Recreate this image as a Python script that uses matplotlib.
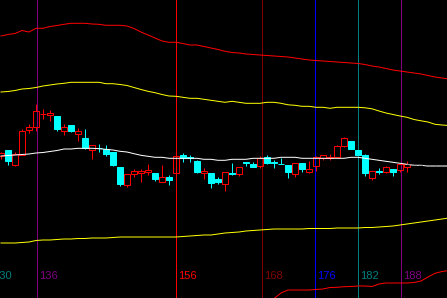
import numpy as np
import matplotlib.pyplot as plt
from matplotlib.patches import Rectangle

# primeiro candle visível
inicio = 131

# candles (escala arbitrária)
abertura = [141.7, 148.0, 133.3, 143.0, 168.3, 171.3, 183.7, 183.0, 182.0, 166.7,
            173.0, 163.7, 160.3, 148.0, 149.8, 148.7, 146.3, 131.0, 113.0, 124.3,
            125.3, 126.0, 124.7, 116.3, 121.3, 125.3, 143.0, 140.7, 137.3, 125.3,
            124.7, 118.7, 113.7, 125.0, 123.7, 135.7, 134.0, 131.7, 141.0, 135.7,
            134.0, 133.0, 123.7, 135.0, 126.3, 131.7, 140.3, 140.5, 140.7, 152.3,
            157.0, 148.0, 143.0, 120.3, 126.7, 125.7, 129.0, 127.7, 130.7]
fechamento = [145.0, 137.3, 144.3, 167.0, 171.0, 187.0, 184.3, 185.3, 169.3, 170.7,
              167.0, 167.0, 149.7, 153.0, 149.6, 144.0, 133.0, 114.0, 124.0, 127.0,
              127.0, 128.0, 118.7, 120.7, 117.7, 141.7, 139.7, 140.3, 126.0, 127.0,
              115.0, 116.3, 125.7, 124.5, 130.7, 135.3, 131.3, 139.7, 135.3, 135.3,
              133.7, 126.3, 134.7, 129.0, 129.0, 140.7, 142.7, 141.0, 152.0, 160.0,
              149.0, 143.0, 125.3, 127.0, 126.3, 131.3, 126.3, 134.0, 133.7]
maxima = [146.3, 148.0, 145.7, 169.0, 173.7, 193.7, 188.7, 187.7, 182.0, 173.7,
          173.0, 169.7, 169.0, 153.0, 153.7, 153.0, 146.3, 131.0, 124.0, 129.0,
          129.0, 133.7, 124.7, 133.0, 123.0, 141.7, 145.0, 143.0, 138.0, 130.3,
          124.7, 121.3, 125.7, 134.7, 130.7, 135.7, 136.3, 141.7, 143.0, 137.7,
          139.7, 133.0, 134.7, 135.0, 137.3, 142.0, 142.7, 144.0, 153.0, 161.3,
          157.0, 148.0, 144.0, 127.0, 130.3, 132.3, 129.0, 134.0, 137.0]
minima = [139.0, 133.0, 132.3, 143.0, 165.3, 167.0, 179.0, 177.3, 167.3, 163.3,
          165.7, 157.3, 149.0, 139.0, 145.7, 142.3, 132.0, 112.3, 111.0, 121.0,
          116.3, 123.0, 117.3, 115.7, 113.0, 125.3, 136.3, 136.3, 124.7, 119.0,
          110.3, 113.7, 107.0, 123.0, 122.3, 132.3, 131.3, 129.7, 134.0, 130.3,
          133.7, 119.7, 121.3, 126.3, 125.3, 127.0, 138.0, 138.0, 140.7, 151.3,
          149.0, 143.0, 122.0, 118.0, 124.3, 124.7, 122.3, 126.0, 126.3]

# média móvel e bandas (um valor por barra, vão até a borda direita)
media = [142, 142.5, 143, 143.5, 144, 145, 145.5, 146.5, 147.5, 149,
         149, 149.7, 149.7, 149.7, 149.3, 148.7, 148, 146.7, 146, 144.3,
         142.7, 141.7, 140.7, 140.7, 139.7, 139.7, 139.7, 139.7, 139.7, 138.7,
         138.7, 137.7, 137.7, 138.7, 138.7, 138.7, 139.7, 139.7, 139.7, 139.7,
         140.7, 140.7, 140.7, 139.7, 139.7, 139.7, 139.7, 139.7, 139.7, 139.7,
         140.7, 140.7, 139.7, 138.7, 137.7, 136.7, 135.7, 134.7, 133.7, 132.7,
         132.7, 132, 132, 132, 132]
amarela_sup = [206, 206.5, 207.5, 209, 209.5, 210.5, 212, 213, 214, 214.7,
               215.7, 215.7, 215.7, 215.7, 215.7, 214.3, 214.3, 213.5, 212.5, 210.5,
               208.5, 206.7, 205.3, 203.5, 202, 201.7, 200.7, 199.7, 199.7, 198.7,
               197.7, 196.7, 195.7, 196.7, 195.7, 194.7, 194.7, 194.7, 195.7, 195.7,
               194.7, 193.2, 192.7, 191.7, 191.7, 190.7, 190.7, 189.7, 190.7, 190.7,
               190.7, 190.7, 190.2, 189.2, 187, 185, 183.5, 182, 180.7, 178.5,
               177.2, 176, 173.7, 173, 172.5]
vermelha_sup = [262, 263.5, 264.5, 267.5, 266, 269.7, 269.7, 271.5, 272.5, 273.7,
                274.7, 274.7, 274.7, 274, 273.7, 272.7, 272.7, 272.7, 272, 269.5,
                266, 263, 260, 257, 255.7, 255.7, 254.5, 253, 253, 251.5,
                250, 248.5, 246.7, 245.5, 245, 244, 243.5, 243, 242.5, 242,
                241.5, 241, 240, 239, 238, 237.5, 237, 236.5, 236, 235.5,
                235, 234.5, 233.5, 232, 231, 229.5, 228, 227, 226, 225,
                224, 222.5, 221, 220, 219]
amarela_inf = [55, 55, 55, 55.5, 56, 57.5, 58, 58, 58.5, 59,
               59, 59.5, 59.5, 60, 60, 60, 60.5, 61, 61, 61,
               61, 61, 61, 61, 61, 61, 61.5, 62, 62.5, 63,
               63, 64, 65, 65.5, 66, 67, 67.5, 68, 68.5, 69,
               69, 69, 69, 69, 69.5, 69.5, 69.5, 69.5, 70, 70,
               70, 70, 70.5, 70.5, 71, 71.5, 72, 73, 74, 75,
               76, 77, 78, 79, 80]
vermelha_inf = [None] * 36 + [-10, -6, -3, -0.5, 5, 8, 8, 8, 8, 8.5,
                              9, 10.5, 10.7, 11.3, 11.5, 12, 12, 11.5, 14, 15,
                              15, 15, 15, 15.5, 17, 21, 24.7, 26.5, 27.5]

# linhas verticais de tempo (a primeira fica fora da tela, só "30" aparece)
linhas_pos = [129.6, 136.2, 156.0, 168.3, 175.9, 182.0, 188.2]
linhas_txt = ["130", "136", "156", "168", "176", "182", "188"]
linhas_cor = ["#008080", "#800080", "#ff0000", "#800000", "#0000ff", "#008080", "#800080"]

px = 0.72  # 1 pixel em pontos

fig = plt.figure(figsize=(4.47, 2.98), dpi=100)
fig.patch.set_facecolor("black")
ax = fig.add_axes([0, 0, 1, 1])
ax.set_facecolor("black")

for pos, txt, cor in zip(linhas_pos, linhas_txt, linhas_cor):
    ax.axvline(pos, color=cor, lw=px, zorder=1)
    ax.text(pos + 0.25, 21.7, txt, color=cor, fontsize=8, family="Liberation Sans",
            ha="left", va="center", zorder=1, clip_on=True)

xb = np.arange(inicio, inicio + len(media))
ax.plot(xb, np.array(vermelha_sup, dtype=float), color="#ff0000", lw=px, zorder=2)
ax.plot(xb, np.array(vermelha_inf, dtype=float), color="#ff0000", lw=px, zorder=2)
ax.plot(xb, np.array(amarela_sup, dtype=float), color="#ffff00", lw=px, zorder=2)
ax.plot(xb, np.array(amarela_inf, dtype=float), color="#ffff00", lw=px, zorder=2)

# candles
larg = 0.75
for i in range(len(abertura)):
    x = inicio + i
    o, c, h, l = abertura[i], fechamento[i], maxima[i], minima[i]
    topo, base = max(o, c), min(o, c)
    alt = max(topo - base, 0.3)
    if c >= o:
        cor = "#ff0000"
        ax.vlines(x, topo, h, color=cor, lw=px, zorder=3)
        ax.vlines(x, l, base, color=cor, lw=px, zorder=3)
        ax.add_patch(Rectangle((x - larg / 2, base), larg, alt, facecolor="none",
                               edgecolor=cor, lw=px, zorder=4))
    else:
        cor = "#00ffff"
        ax.vlines(x, l, h, color=cor, lw=px, zorder=3)
        ax.add_patch(Rectangle((x - larg / 2, base), larg, alt, facecolor=cor,
                               edgecolor=cor, lw=px, zorder=4))

# média móvel
ax.plot(xb, media, color="white", lw=px, zorder=5)
ax.plot(xb[58:], media[58:], color="#909090", lw=px, dashes=(4, 2), zorder=6)

ax.set_xlim(inicio - 1 / 7, inicio + 446 / 7)
ax.set_ylim(0, 298)
ax.axis("off")

plt.savefig("out.png", dpi=100, facecolor="black")
plt.close()
